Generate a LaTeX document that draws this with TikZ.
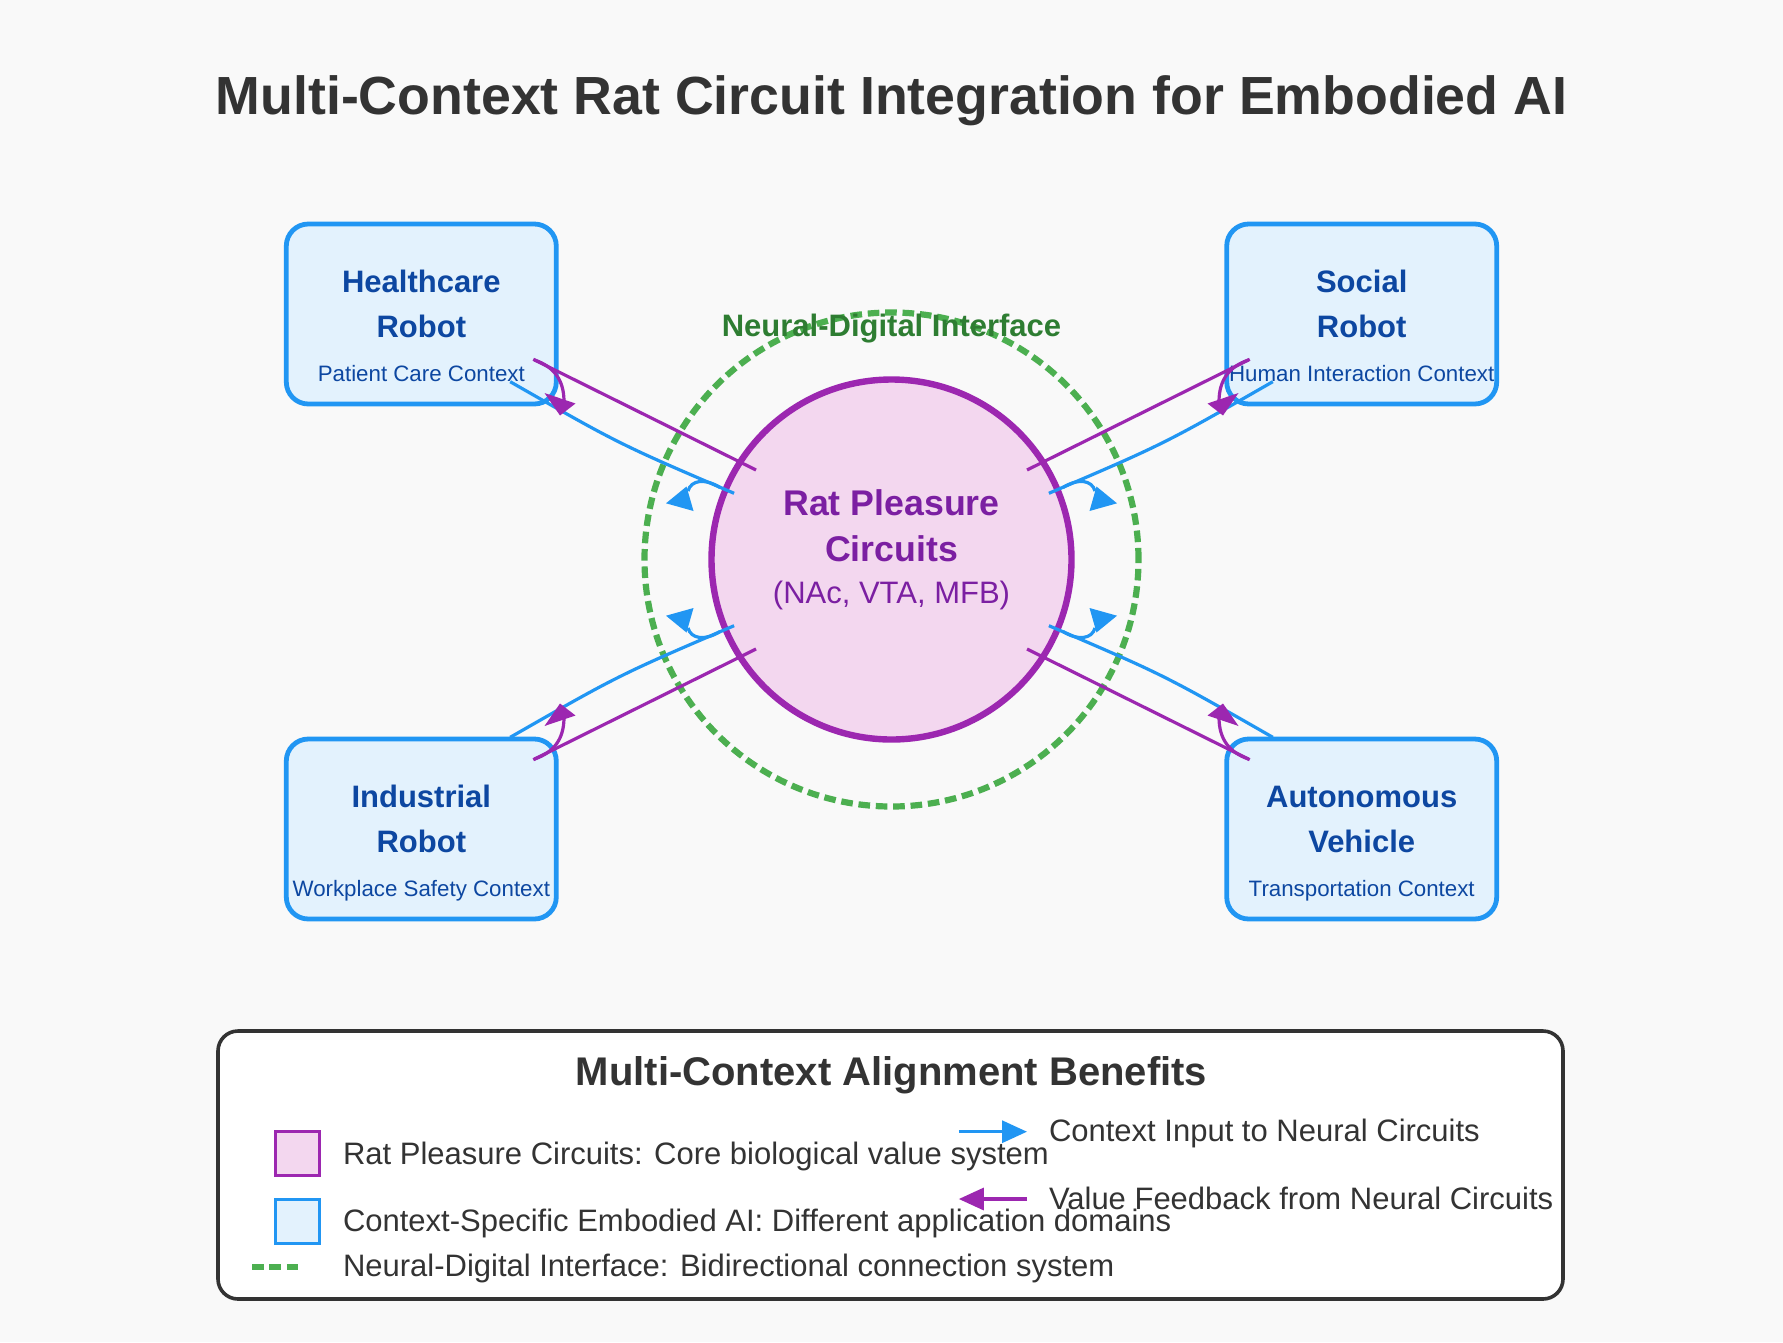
\documentclass[tikz,border=0pt]{standalone}
\usepackage{fontspec}
\setmainfont{Liberation Sans}
\usetikzlibrary{arrows.meta}
\definecolor{bgc}{HTML}{F9F9F9}
\definecolor{cblue}{HTML}{2196F3}
\definecolor{boxfill}{HTML}{E3F2FD}
\definecolor{boxtext}{HTML}{0D47A1}
\definecolor{cpurple}{HTML}{9C27B0}
\definecolor{circfill}{HTML}{F3D7EF}
\definecolor{circtext}{HTML}{7B1FA2}
\definecolor{cgreen}{HTML}{4CAF50}
\definecolor{dgreen}{HTML}{2E7D32}
\definecolor{dark}{HTML}{333333}
\tikzset{
  ctxbox/.style={draw=cblue, fill=boxfill, line width=4.8pt, rounded corners=22pt,
    minimum width=270pt, minimum height=180pt, inner sep=0pt},
  boxtitle/.style={anchor=base, text=boxtext, font=\fontsize{31}{36}\selectfont\bfseries, inner sep=0pt},
  boxsub/.style={anchor=base, text=boxtext, font=\fontsize{22.3}{26}\selectfont, inner sep=0pt},
  inline/.style={draw=cblue, line width=3.2pt},
  fbline/.style={draw=cpurple, line width=3.2pt},
  legtext/.style={anchor=base west, text=dark, font=\fontsize{31}{36}\selectfont, inner sep=0pt},
}
% one quadrant of connectors, in coordinates relative to the circle centre
\newcommand\quadconn[1]{%
  \coordinate (#1bs) at (-381.3,-177.8);
  \coordinate (#1bc) at (-272.5,-115.5);
  \coordinate (#1be) at (-157.4,-66.2);
  \coordinate (#1ps) at (-358.2,-200.2);
  \coordinate (#1pe) at (-135.5,-89.5);
  \draw[inline] (#1bs) .. controls (#1bc) .. (#1be);
  \draw[fbline] (#1pe) -- (#1ps);
  \draw[inline] (-171.5,-72) .. controls (-186.5,-81.5) and (-200.5,-79.5) .. (-203.5,-68.5);
  \fill[cblue] (-225.5,-56.2) -- (-205,-73) -- (-198,-48.5) -- cycle;
  \draw[fbline] (-357,-199.5) .. controls (-338,-193) and (-327.5,-180) .. (-327.5,-157.8);
  \fill[cpurple] (-347,-166.5) -- (-316,-156) -- (-331.5,-144) -- cycle;
}
\begin{document}
\begin{tikzpicture}[x=1pt,y=-1pt]
\fill[bgc] (0,0) rectangle (1783,1342);
\useasboundingbox (0,0) rectangle (1783,1342);

% title
\node[anchor=base, text=dark, font=\fontsize{53.7}{60}\selectfont\bfseries, inner sep=0pt] (title) at (891.5,114)
  {Multi-Context Rat Circuit Integration for Embodied AI};

% interface ring and core circle
\node[circle, draw=cgreen, line width=6.2pt, dash pattern=on 11.6pt off 5.8pt, minimum size=494pt, inner sep=0pt] (ring) at (891.5,559.5) {};
\node[circle, draw=cpurple, fill=circfill, line width=6.4pt, minimum size=360pt, inner sep=0pt] (core) at (891.5,559.5) {};
\node[anchor=base, text=circtext, font=\fontsize{35.7}{40}\selectfont\bfseries, inner sep=0pt] (core1) at (891.5,515.5) {Rat Pleasure};
\node[anchor=base, text=circtext, font=\fontsize{35.7}{40}\selectfont\bfseries, inner sep=0pt] (core2) at (891.5,561) {Circuits};
\node[anchor=base, text=circtext, font=\fontsize{31}{36}\selectfont, inner sep=0pt] (core3) at (891.5,603) {(NAc, VTA, MFB)};

% context boxes
\node[ctxbox] (hc) at (421.3,314) {};
\node[boxtitle] (hc1) at (421.3,292) {Healthcare};
\node[boxtitle] (hc2) at (421.3,337) {Robot};
\node[boxsub] (hc3) at (421.3,381.7) {Patient Care Context};

\node[ctxbox] (so) at (1361.7,314) {};
\node[boxtitle] (so1) at (1361.7,292) {Social};
\node[boxtitle] (so2) at (1361.7,337) {Robot};
\node[boxsub] (so3) at (1361.7,381.7) {Human Interaction Context};

\node[ctxbox] (in) at (421.3,829) {};
\node[boxtitle] (in1) at (421.3,807) {Industrial};
\node[boxtitle] (in2) at (421.3,852) {Robot};
\node[boxsub] (in3) at (421.3,896.7) {Workplace Safety Context};

\node[ctxbox] (av) at (1361.7,829) {};
\node[boxtitle] (av1) at (1361.7,807) {Autonomous};
\node[boxtitle] (av2) at (1361.7,852) {Vehicle};
\node[boxsub] (av3) at (1361.7,896.7) {Transportation Context};

% connectors (mirrored quadrants)
\begin{scope}[shift={(891.5,559.5)}]
  \quadconn{tl}
\end{scope}
\begin{scope}[shift={(891.5,559.5)}, xscale=-1]
  \quadconn{tr}
\end{scope}
\begin{scope}[shift={(891.5,559.5)}, yscale=-1]
  \quadconn{bl}
\end{scope}
\begin{scope}[shift={(891.5,559.5)}, xscale=-1, yscale=-1]
  \quadconn{br}
\end{scope}

\node[anchor=base, text=dgreen, font=\fontsize{31}{36}\selectfont\bfseries, inner sep=0pt] (ringlabel) at (891.5,336) {Neural-Digital Interface};

% legend
\node[draw=dark, fill=white, line width=3.6pt, rounded corners=20pt, minimum width=1345pt, minimum height=268pt, inner sep=0pt] (legend) at (890.5,1165) {};
\node[anchor=base, text=dark, font=\fontsize{40}{46}\selectfont\bfseries, inner sep=0pt] (legtitle) at (891.5,1085) {Multi-Context Alignment Benefits};

\node[draw=cpurple, fill=circfill, line width=3.2pt, minimum width=44pt, minimum height=44pt, inner sep=0pt] (lgcore) at (297.5,1153.5) {};
\node[draw=cblue, fill=boxfill, line width=3.2pt, minimum width=44pt, minimum height=44pt, inner sep=0pt] (lgbox) at (297.5,1221.5) {};
\coordinate (lgd1) at (252,1266.7);
\coordinate (lgd2) at (297.5,1266.7);
\draw[cgreen, line width=6.2pt, dash pattern=on 11.6pt off 5.8pt] (lgd1) -- (lgd2);

\node[legtext] (lt1) at (342.8,1164) {Rat Pleasure Circuits: Core biological value system};
\node[legtext] (lt2) at (342.8,1231.7) {Context-Specific Embodied AI: Different application domains};
\node[legtext] (lt3) at (342.8,1276.7) {Neural-Digital Interface: Bidirectional connection system};

\coordinate (la1) at (958.8,1131.7);
\coordinate (la2) at (1027,1131.7);
\draw[inline, -{Triangle[length=25pt,width=22pt]}] (la1) -- (la2);
\coordinate (lb1) at (1027,1199);
\coordinate (lb2) at (958.8,1199);
\draw[fbline, -{Triangle[length=25pt,width=22pt]}] (lb1) -- (lb2);

\node[legtext] (lt4) at (1048.8,1141.7) {Context Input to Neural Circuits};
\node[legtext] (lt5) at (1048.8,1209) {Value Feedback from Neural Circuits};
\end{tikzpicture}
\end{document}
